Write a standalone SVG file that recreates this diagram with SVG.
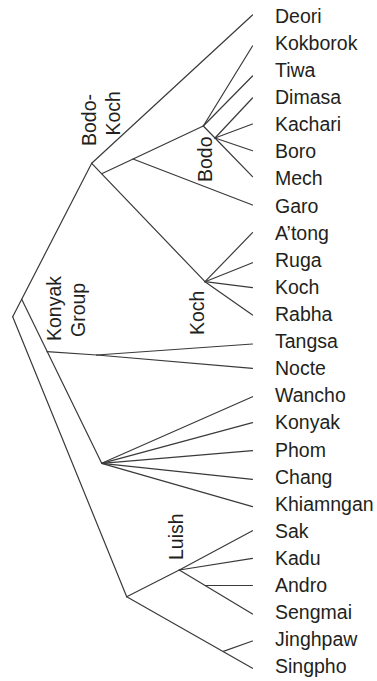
<svg xmlns="http://www.w3.org/2000/svg" width="377" height="681" viewBox="0 0 377 681">
<style>
.e{stroke:#3a3a3a;stroke-width:1.2;fill:none;stroke-linecap:round}
text{font-family:"Liberation Sans",Arial,sans-serif;font-size:19.5px;fill:#231f20}
</style>
<rect width="377" height="681" fill="#fff"/>
<g id="connectors">
<line class="e" x1="12.7" y1="316.7" x2="91.7" y2="163.3"/>
<line class="e" x1="91.7" y1="163.3" x2="252.5" y2="15"/>
<line class="e" x1="91.7" y1="163.3" x2="205" y2="281.7"/>
<line class="e" x1="101.7" y1="173.7" x2="203.3" y2="126"/>
<line class="e" x1="133" y1="159" x2="252.5" y2="205"/>
<line class="e" x1="203.3" y1="126" x2="252.5" y2="46"/>
<line class="e" x1="203.3" y1="126" x2="252.5" y2="76"/>
<line class="e" x1="203.3" y1="126" x2="215" y2="138"/>
<line class="e" x1="215" y1="138" x2="252.5" y2="98"/>
<line class="e" x1="215" y1="138" x2="252.5" y2="124"/>
<line class="e" x1="215" y1="138" x2="252.5" y2="150.7"/>
<line class="e" x1="215" y1="138" x2="252.5" y2="176.7"/>
<line class="e" x1="205" y1="281.7" x2="252.5" y2="232.7"/>
<line class="e" x1="205" y1="281.7" x2="252.5" y2="262.7"/>
<line class="e" x1="205" y1="281.7" x2="252.5" y2="287.7"/>
<line class="e" x1="205" y1="281.7" x2="252.5" y2="315"/>
<line class="e" x1="21.7" y1="299.3" x2="101.7" y2="463.3"/>
<line class="e" x1="47" y1="351.7" x2="96.7" y2="355"/>
<line class="e" x1="96.7" y1="355" x2="252.5" y2="344"/>
<line class="e" x1="96.7" y1="355" x2="252.5" y2="368.3"/>
<line class="e" x1="101.7" y1="463.3" x2="252.5" y2="396.7"/>
<line class="e" x1="101.7" y1="463.3" x2="252.5" y2="422.7"/>
<line class="e" x1="101.7" y1="463.3" x2="252.5" y2="450.7"/>
<line class="e" x1="101.7" y1="463.3" x2="252.5" y2="479.3"/>
<line class="e" x1="101.7" y1="463.3" x2="252.5" y2="506.7"/>
<line class="e" x1="12.7" y1="316.7" x2="126.7" y2="596.7"/>
<line class="e" x1="126.7" y1="596.7" x2="179.3" y2="570"/>
<line class="e" x1="179.3" y1="570" x2="252.5" y2="530.7"/>
<line class="e" x1="179.3" y1="570" x2="252.5" y2="558.3"/>
<line class="e" x1="179.3" y1="570" x2="252.5" y2="614"/>
<line class="e" x1="205" y1="585.5" x2="252.5" y2="585.5"/>
<line class="e" x1="126.7" y1="596.7" x2="252.5" y2="668.3"/>
<line class="e" x1="223.3" y1="651.4" x2="252.5" y2="641"/>
</g>
<g id="labels">
<text transform="translate(96,146) rotate(-90)">Bodo-</text>
<text transform="translate(120,135.5) rotate(-90)">Koch</text>
<text transform="translate(211.5,182) rotate(-90)">Bodo</text>
<text transform="translate(61,341) rotate(-90)">Konyak</text>
<text transform="translate(85,337) rotate(-90)">Group</text>
<text transform="translate(204,335) rotate(-90)">Koch</text>
<text transform="translate(182.5,560) rotate(-90)">Luish</text>
</g>
<g id="leaves">
<g id="n-deori"><text x="275" y="22.7">Deori</text></g>
<g id="n-kokborok"><text x="275" y="49.8">Kokborok</text></g>
<g id="n-tiwa"><text x="275" y="76.9">Tiwa</text></g>
<g id="n-dimasa"><text x="275" y="104">Dimasa</text></g>
<g id="n-kachari"><text x="275" y="131.1">Kachari</text></g>
<g id="n-boro"><text x="275" y="158.3">Boro</text></g>
<g id="n-mech"><text x="275" y="185.4">Mech</text></g>
<g id="n-garo"><text x="275" y="212.5">Garo</text></g>
<g id="n-atong"><text x="275" y="239.6">A’tong</text></g>
<g id="n-ruga"><text x="275" y="266.7">Ruga</text></g>
<g id="n-koch"><text x="275" y="293.8">Koch</text></g>
<g id="n-rabha"><text x="275" y="320.9">Rabha</text></g>
<g id="n-tangsa"><text x="275" y="348">Tangsa</text></g>
<g id="n-nocte"><text x="275" y="375.1">Nocte</text></g>
<g id="n-wancho"><text x="275" y="402.2">Wancho</text></g>
<g id="n-konyak"><text x="275" y="429.4">Konyak</text></g>
<g id="n-phom"><text x="275" y="456.5">Phom</text></g>
<g id="n-chang"><text x="275" y="483.6">Chang</text></g>
<g id="n-khiamngan"><text x="275" y="510.7">Khiamngan</text></g>
<g id="n-sak"><text x="275" y="537.8">Sak</text></g>
<g id="n-kadu"><text x="275" y="564.9">Kadu</text></g>
<g id="n-andro"><text x="275" y="592">Andro</text></g>
<g id="n-sengmai"><text x="275" y="619.1">Sengmai</text></g>
<g id="n-jinghpaw"><text x="275" y="646.2">Jinghpaw</text></g>
<g id="n-singpho"><text x="275" y="673.3">Singpho</text></g>
</g>
</svg>
